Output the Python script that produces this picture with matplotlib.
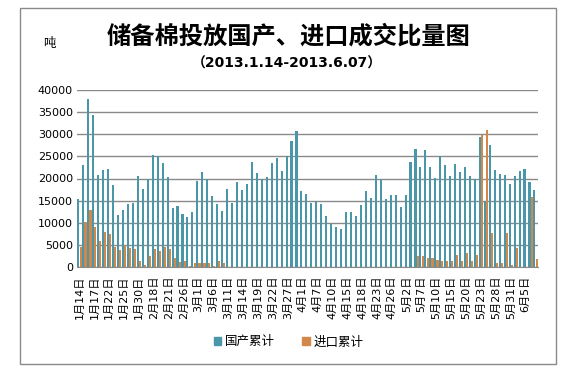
import matplotlib
matplotlib.use('Agg')
import matplotlib.pyplot as plt
from matplotlib.patches import Patch, Rectangle
import numpy as np

plt.rcParams['font.family'] = ['DejaVu Sans', 'Noto Sans CJK SC']

# trading days of the reserve cotton auction, 2013.1.14 - 2013.6.07
dates = ["1月14日", "1月15日", "1月16日", "1月17日", "1月18日", "1月21日", "1月22日", "1月23日",
         "1月24日", "1月25日", "1月28日", "1月29日", "1月30日", "1月31日", "2月1日", "2月18日",
         "2月19日", "2月20日", "2月21日", "2月22日", "2月25日", "2月26日", "2月27日", "2月28日",
         "3月1日", "3月4日", "3月5日", "3月6日", "3月7日", "3月8日", "3月11日", "3月12日",
         "3月13日", "3月14日", "3月15日", "3月18日", "3月19日", "3月20日", "3月21日", "3月22日",
         "3月25日", "3月26日", "3月27日", "3月28日", "3月29日", "4月1日", "4月2日", "4月3日",
         "4月7日", "4月8日", "4月9日", "4月10日", "4月11日", "4月12日", "4月15日", "4月16日",
         "4月17日", "4月18日", "4月19日", "4月22日", "4月23日", "4月24日", "4月25日", "4月26日",
         "4月27日", "4月28日", "5月2日", "5月3日", "5月6日", "5月7日", "5月8日", "5月9日",
         "5月10日", "5月13日", "5月14日", "5月15日", "5月16日", "5月17日", "5月20日", "5月21日",
         "5月22日", "5月23日", "5月24日", "5月27日", "5月28日", "5月29日", "5月30日", "5月31日",
         "6月3日", "6月4日", "6月5日", "6月6日", "6月7日"]

# 国产累计 (tons)
domestic = [15400, 23000, 38000, 34400, 20800, 21900, 22100, 18500, 11800, 12900, 14300, 14500,
            20600, 17700, 20000, 25300, 25100, 23500, 20300, 13400, 13800, 12000, 11400, 12500,
            19400, 21400, 20000, 16000, 14200, 12600, 17600, 14500, 19200, 17400, 18800, 23700,
            21200, 20000, 20300, 23500, 24700, 21700, 25000, 28500, 30800, 17200, 16500, 14500,
            14900, 14300, 11500, 9700, 9000, 8700, 12400, 12400, 11500, 14000, 17200, 15600,
            20800, 19700, 15400, 16300, 16300, 13600, 16300, 23700, 26700, 22600, 26500, 22600,
            20200, 25100, 23100, 20600, 23300, 21500, 22600, 20600, 20000, 29400, 15000, 27600,
            22000, 21100, 20800, 18800, 20600, 21700, 22200, 19300, 17500]

# 进口累计 (tons)
imported = [4600, 10200, 12900, 9000, 5900, 8000, 7500, 4500, 3800, 5000, 4300, 4100,
            1400, 450, 2500, 4100, 3700, 4500, 4100, 2100, 1200, 1400, 250, 900,
            900, 900, 900, 250, 1300, 850, 0, 0, 0, 0, 0, 0,
            0, 0, 0, 0, 0, 0, 0, 0, 0, 0, 0, 0,
            0, 0, 0, 0, 0, 0, 0, 0, 0, 0, 0, 0,
            0, 0, 0, 0, 0, 0, 0, 0, 2500, 2500, 2100, 2100,
            1650, 1430, 1430, 1430, 2800, 1430, 3200, 1430, 2600, 29900, 31000, 7700,
            1000, 1000, 7700, 500, 4400, 0, 0, 15900, 1900]

TEAL = '#4a97a9'
ORANGE = '#d2884b'
GRID = '#8a8a8a'

fig = plt.figure(figsize=(5.74, 3.74), dpi=100)
ax = fig.add_axes([77 / 574, 107 / 374, 461 / 574, 177 / 374])

x = np.arange(len(dates))
w = 0.42
ax.bar(x - 0.22, domestic, w, color=TEAL, linewidth=0)
ax.bar(x + 0.22, imported, w, color=ORANGE, linewidth=0)

ax.set_xlim(-0.5, len(dates) - 0.5)
ax.set_ylim(0, 40000)
ax.set_yticks(range(0, 40001, 5000))
ax.yaxis.grid(True, color=GRID, lw=1)
ax.set_axisbelow(True)
for s in ['top', 'right', 'left']:
    ax.spines[s].set_visible(False)
ax.spines['bottom'].set_color(GRID)
ax.tick_params(length=0)
ax.tick_params(axis='y', labelsize=8, pad=3)
ax.set_xticks(x[::3])
ax.set_xticklabels(dates[::3], rotation=90, fontsize=8)
ax.tick_params(axis='x', pad=6)

fig.text(0.503, 1 - 37 / 374, "储备棉投放国产、进口成交比量图", ha='center', va='center',
         fontsize=17.5, fontweight='bold', family=['Noto Sans CJK SC'])
fig.text(0.5, 1 - 64 / 374, "（2013.1.14-2013.6.07）", ha='center', va='center',
         fontsize=10, fontweight='bold', family=['DejaVu Sans', 'Noto Sans CJK SC'])
fig.text(49 / 574, 1 - 43 / 374, "吨", ha='center', va='center', fontsize=9,
         family=['Noto Sans CJK SC'])

handles = [Patch(color=TEAL), Patch(color=ORANGE)]
fig.legend(handles, ['国产累计', '进口累计'], loc='center', ncol=2, frameon=False,
           bbox_to_anchor=(0.503, 1 - 342 / 374), fontsize=9, handlelength=0.6,
           handleheight=0.6, handletextpad=0.3, columnspacing=2.2,
           prop={'family': ['Noto Sans CJK SC'], 'size': 9})

fig.patches.append(Rectangle((20 / 574, 10 / 374), 536 / 574, 356 / 374, transform=fig.transFigure,
                             fill=False, edgecolor=GRID, lw=1))

plt.savefig('out.png', dpi=100)
plt.close()
